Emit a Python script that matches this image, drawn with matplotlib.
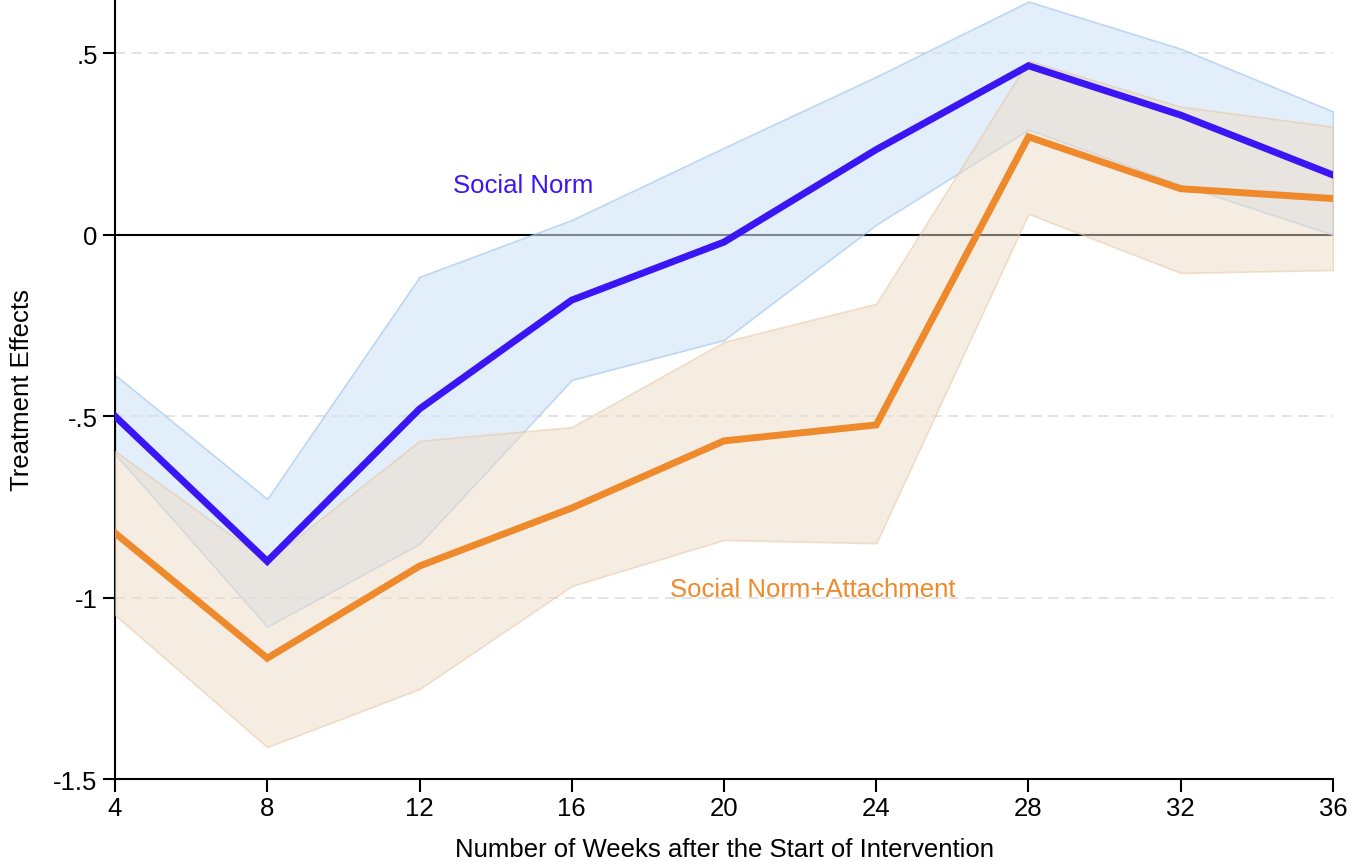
import numpy as np
import matplotlib.pyplot as plt

plt.rcParams["font.family"] = ["Liberation Sans", "DejaVu Sans"]

weeks = [4, 8, 12, 16, 20, 24, 28, 32, 36]

# social norm: point estimate and confidence band
norm_est = [-0.50, -0.90, -0.48, -0.18, -0.02, 0.235, 0.466, 0.33, 0.165]
norm_hi = [-0.386, -0.728, -0.116, 0.041, 0.24, 0.436, 0.643, 0.513, 0.34]
norm_lo = [-0.604, -1.08, -0.852, -0.40, -0.29, 0.028, 0.29, 0.138, 0.0]

# social norm + attachment
att_est = [-0.822, -1.167, -0.913, -0.753, -0.568, -0.524, 0.27, 0.127, 0.10]
att_hi = [-0.596, -0.90, -0.568, -0.53, -0.295, -0.19, 0.48, 0.353, 0.298]
att_lo = [-1.048, -1.412, -1.252, -0.968, -0.841, -0.85, 0.058, -0.105, -0.097]

yticks = [-1.5, -1, -0.5, 0, 0.5]
ytick_labels = ["-1.5", "-1", "-.5", "0", ".5"]

blue = "#3b16f4"
orange = "#ee8a2b"

fig = plt.figure(figsize=(13.5, 8.62), dpi=100)
ax = fig.add_axes([0.0852, 0.0951, 0.9022, 0.9049])

# grid lines
for y in [0.5, -0.5, -1]:
    ax.axhline(y, color="#dddddd", linestyle=(0, (6, 4)), linewidth=1.2, zorder=0)
ax.axhline(0, color="black", linewidth=1.5, zorder=1)

ax.fill_between(weeks, norm_lo, norm_hi, facecolor="#cfe4f8", edgecolor="#9cc3ec",
                alpha=0.6, linewidth=1.2, zorder=2)
ax.fill_between(weeks, att_lo, att_hi, facecolor="#efdcc6", edgecolor="#e8c29c",
                alpha=0.5, linewidth=1.2, zorder=3)

ax.plot(weeks, att_est, color=orange, linewidth=5, zorder=4, solid_joinstyle="miter")
ax.plot(weeks, norm_est, color=blue, linewidth=5, zorder=5, solid_joinstyle="miter")

ax.text(14.72, 0.138, "Social Norm", color=blue, fontsize=18.5, ha="center", va="center")
ax.text(22.34, -0.977, "Social Norm+Attachment", color=orange, fontsize=18.5,
        ha="center", va="center")

ax.set_xlim(4, 36)
ax.set_ylim(-1.5, 0.65)
ax.set_xticks(weeks)
ax.set_yticks(yticks)
ax.set_yticklabels(ytick_labels)
ax.tick_params(axis="both", labelsize=18.5, length=9, width=1.5, direction="out")

for s in ["top", "right"]:
    ax.spines[s].set_visible(False)
for s in ["left", "bottom"]:
    ax.spines[s].set_linewidth(1.5)

ax.set_xlabel("Number of Weeks after the Start of Intervention", fontsize=18.5, labelpad=12)
ax.set_ylabel("Treatment Effects", fontsize=18.5, labelpad=14)

fig.savefig("out.png", dpi=100)
